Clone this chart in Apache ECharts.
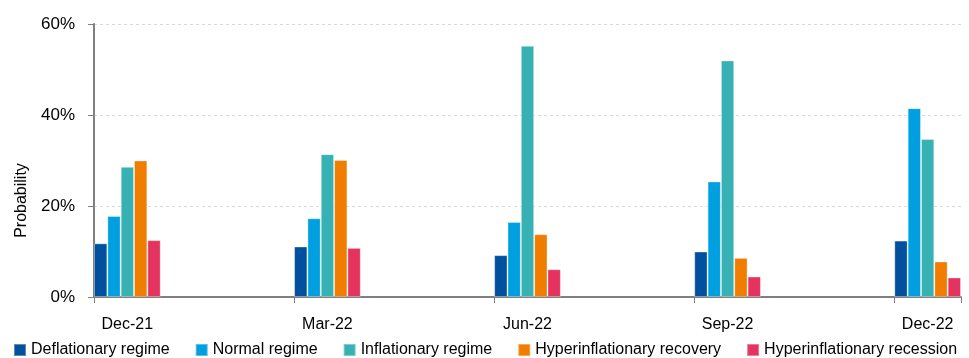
<!DOCTYPE html>
<html>
<head>
<meta charset="utf-8">
<script src="https://cdn.jsdelivr.net/npm/echarts@6/dist/echarts.min.js"></script>
<style>
html,body{margin:0;padding:0;background:#fff;}
#chart{width:969px;height:358px;}
</style>
</head>
<body>
<div id="chart"></div>
<script>
// Monthly axis (Excel date-axis style); data only at quarter months
const months = ['Dec-21','Jan-22','Feb-22','Mar-22','Apr-22','May-22','Jun-22','Jul-22','Aug-22','Sep-22','Oct-22','Nov-22','Dec-22'];
const quarters = ['Dec-21','Mar-22','Jun-22','Sep-22','Dec-22'];
const seriesNames = ['Deflationary regime','Normal regime','Inflationary regime','Hyperinflationary recovery','Hyperinflationary recession'];
const deflationary = [11.8, 11.1, 9.2, 10.0, 12.4];
const normal = [17.8, 17.3, 16.5, 25.4, 41.5];
const inflationary = [28.6, 31.4, 55.2, 52.0, 34.7];
const hyperRecovery = [30.0, 30.1, 13.8, 8.6, 7.8];
const hyperRecession = [12.5, 10.8, 6.1, 4.5, 4.3];
const yTicks = [0, 20, 40, 60];

const colors = ['#00509e','#009fe0','#38b1b5','#f07c00','#e5335f'];
const allValues = [deflationary, normal, inflationary, hyperRecovery, hyperRecession];

function toMonthly(vals){
  return months.map(m => {
    const qi = quarters.indexOf(m);
    return qi >= 0 ? vals[qi] : null;
  });
}

const font = '"Liberation Sans", Arial, sans-serif';
const fs = 16;
const chart = echarts.init(document.getElementById('chart'), null, {renderer:'canvas'});
chart.setOption({
  animation: false,
  color: colors,
  textStyle: {fontFamily: font},
  grid: {left: 94, right: 8, top: 24, bottom: 61, containLabel: false},
  legend: {
    left: 8, top: 337, right: 0,
    itemWidth: 12, itemHeight: 12, itemGap: 25,
    icon: 'rect',
    textStyle: {fontSize: fs, color: '#000', fontFamily: font},
    data: seriesNames
  },
  xAxis: {
    type: 'category',
    data: months,
    boundaryGap: true,
    axisLine: {lineStyle: {color: '#808080', width: 2}},
    axisTick: {show: true, interval: 2, length: 6, lineStyle: {color: '#808080', width: 1}},
    axisLabel: {interval: 2, margin: 20, fontSize: fs, color: '#000', fontFamily: font},
    splitLine: {show: false}
  },
  yAxis: {
    type: 'value',
    min: yTicks[0], max: yTicks[yTicks.length-1], interval: 20,
    name: 'Probability',
    nameLocation: 'middle',
    nameGap: 64,
    nameTextStyle: {fontSize: fs, color: '#000', fontFamily: font, padding: [0, 80, 0, 0]},
    axisLine: {show: true, lineStyle: {color: '#808080', width: 2}},
    axisTick: {show: true, length: 6, lineStyle: {color: '#808080', width: 1}},
    axisLabel: {formatter: '{value}%', margin: 19, fontSize: 17, color: '#000', fontFamily: font},
    splitLine: {show: true, lineStyle: {color: '#d9d9d9', type: [3, 3], width: 1}}
  },
  series: seriesNames.map((n, i) => ({
    name: n,
    type: 'bar',
    data: toMonthly(allValues[i]),
    barGap: '0%',
    barCategoryGap: '0%',
    itemStyle: {color: colors[i], borderColor: 'rgba(255,255,255,0.35)', borderWidth: 1}
  }))
});
</script>
</body>
</html>
